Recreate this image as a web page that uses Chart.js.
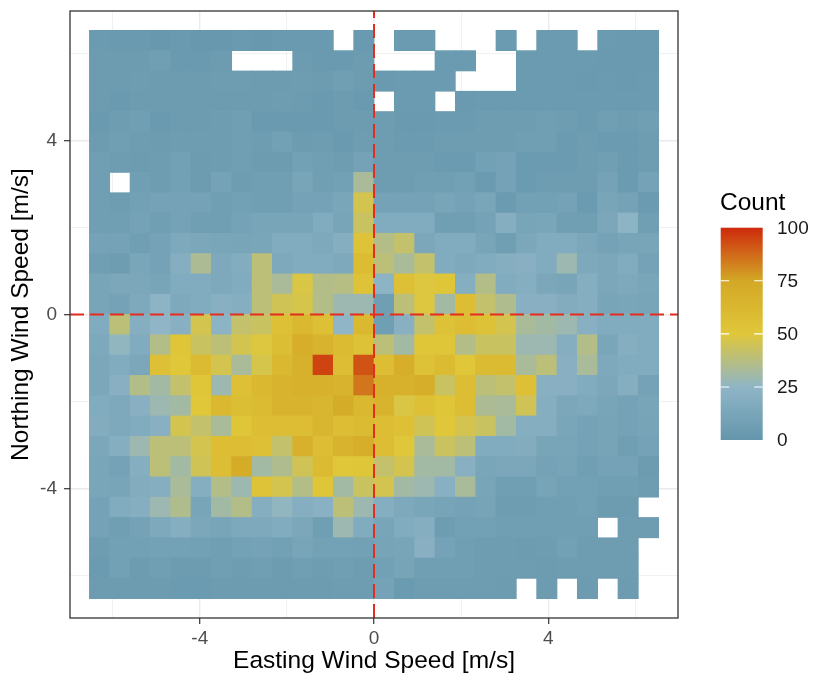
<!DOCTYPE html>
<html><head><meta charset="utf-8">
<script src="https://cdn.jsdelivr.net/npm/chart.js@4.4.1/dist/chart.umd.min.js"></script>
<style>html,body{margin:0;padding:0;background:#fff;overflow:hidden}</style>
</head><body>
<canvas id="c" width="813" height="681"></canvas>
<script>
// ---- data ----
const binWidth = 0.4668;          // m/s per bin
const firstEdge = -6.535;         // lower edge of the first bin (both axes)
// counts per bin; rows from north (top) to south (bottom), columns west -> east; null = empty bin
const countRows = [
 [4,3,3,2,3,2,2,3,2,3,3,3,null,3, null,4,4,null,null,null,4,null,4,4,null,4,3,3],
 [5,5,5,7,3,3,5,null,null,null,5,3,3,5, null,null,null,4,4,null,null,4,4,4,4,3,3,3],
 [5,5,6,5,5,5,6,6,5,5,6,5,7,5, 3,4,4,4,null,null,null,4,4,4,3,4,3,4],
 [5,3,5,5,5,5,5,5,5,6,5,3,5,3, null,4,4,null,3,4,4,4,4,4,4,4,4,4],
 [3,6,7,3,5,5,6,7,3,3,3,3,5,5, 6,3,3,4,4,6,6,6,7,6,4,7,6,7],
 [5,7,6,5,6,6,6,7,6,8,5,6,3,6, 6,4,4,6,6,6,6,7,7,4,6,4,4,6],
 [7,6,5,6,8,5,6,7,5,5,8,7,6,10, 6,6,6,4,4,8,10,4,4,4,6,7,4,6],
 [7,null,7,6,8,5,10,6,7,7,12,7,8,33, 6,6,7,7,8,4,10,4,6,6,6,10,4,10],
 [7,6,8,10,10,10,7,8,7,7,10,10,13,46, 10,10,10,12,10,13,4,8,8,10,4,12,10,4],
 [7,7,10,7,10,7,7,10,12,12,12,17,12,43, 17,17,17,7,7,10,19,12,13,7,7,14,24,7],
 [10,10,7,10,15,14,13,12,13,17,17,15,19,53, 36,41,14,17,17,12,7,14,17,17,14,10,12,12],
 [7,6,13,10,19,34,15,18,39,15,17,17,15,59, 39,33,41,17,15,17,19,21,17,29,15,14,17,10],
 [12,14,14,12,17,17,15,17,39,33,48,36,37,53, 24,56,49,51,19,36,17,19,14,12,19,14,15,13],
 [12,10,15,24,15,17,21,19,39,45,47,36,29,29, 7,39,49,31,58,41,35,21,21,18,19,12,13,12],
 [17,39,19,25,21,46,24,41,43,56,62,56,25,62, 7,21,41,55,58,55,46,33,31,29,21,17,17,17],
 [15,26,17,36,52,43,39,46,49,57,70,65,60,55, 39,31,52,52,36,43,43,29,29,19,36,13,19,17],
 [14,17,14,56,50,60,46,33,47,62,68,95,58,92, 58,70,55,60,50,60,60,33,39,21,33,15,17,17],
 [14,21,36,31,41,52,29,56,62,65,68,68,66,85, 68,68,70,43,58,39,41,56,21,21,17,14,19,10],
 [17,15,21,29,31,50,62,57,60,65,66,64,72,62, 65,48,56,52,58,34,33,45,19,14,15,12,10,12],
 [18,15,17,21,46,41,33,52,58,58,58,64,58,60, 58,56,45,50,46,43,31,19,19,13,10,11,10,11],
 [14,19,29,39,39,46,58,58,56,41,68,58,66,70, 58,50,33,43,39,17,17,18,12,12,10,11,7,10],
 [13,10,19,39,31,45,58,72,31,35,45,60,50,52, 41,46,31,31,21,13,14,14,10,11,7,10,10,5],
 [13,12,18,19,33,19,36,29,54,46,36,52,31,43, 46,31,29,21,33,12,7,7,11,8,8,7,7,6],
 [10,17,19,29,35,12,31,36,19,26,19,22,39,29, 19,15,13,11,10,11,6,6,7,7,8,5,5,null],
 [10,7,10,15,19,14,12,15,15,17,14,7,29,17, 12,17,19,6,8,8,7,7,7,7,7,null,6,6],
 [6,8,8,9,9,8,7,9,10,8,12,9,9,8, 11,12,21,10,7,6,6,5,6,8,6,6,6,null],
 [4,8,5,7,5,5,7,6,7,5,7,6,7,6, 8,11,7,7,7,6,6,6,5,6,6,6,6,null],
 [5,5,5,5,4,4,5,5,5,5,5,5,6,6, 10,4,6,6,6,6,5,null,5,null,5,null,5,null]
];
const axisLimits = [-6.98, 6.98];
const majorTicks = [-4, 0, 4];
const minorTicks = [-6, -2, 2, 6];
const legendTicks = [0, 25, 50, 75, 100];
const paletteStops = [0, 25, 50, 75, 100];
const paletteColors = [[100,150,172],[143,181,198],[224,199,58],[211,168,38],[206,42,12]];

// ---- helpers ----
const FONT = "'Liberation Sans', Arial, Helvetica, sans-serif";
function colourFor(v) {
  const t = Math.max(0, Math.min(100, v));
  for (let i = 1; i < paletteStops.length; i++) {
    if (t <= paletteStops[i]) {
      const f = (t - paletteStops[i-1]) / (paletteStops[i] - paletteStops[i-1]);
      const a = paletteColors[i-1], b = paletteColors[i];
      return `rgb(${Math.round(a[0]+(b[0]-a[0])*f)},${Math.round(a[1]+(b[1]-a[1])*f)},${Math.round(a[2]+(b[2]-a[2])*f)})`;
    }
  }
  const c = paletteColors[paletteColors.length-1];
  return `rgb(${c[0]},${c[1]},${c[2]})`;
}
const tiles = [];
countRows.forEach((row, r) => row.forEach((v, c) => {
  if (v !== null) tiles.push({x: firstEdge + (c + 0.5) * binWidth, y: -firstEdge - (r + 0.5) * binWidth, v});
}));
const gridValues = majorTicks.concat(minorTicks).sort((a,b)=>a-b);
const isMajor = v => majorTicks.includes(v);

const tileSide = ctx => {
  const sx = ctx.chart.scales.x;
  const side = Math.abs(sx.getPixelForValue(binWidth) - sx.getPixelForValue(0));
  return (side + 0.7) / Math.SQRT2;
};

const extras = {
  id: 'extras',
  afterDatasetsDraw(chart) {
    const {ctx, chartArea: a} = chart;
    ctx.save();
    ctx.strokeStyle = '#333333';
    ctx.lineWidth = 1.3;
    ctx.strokeRect(a.left, a.top, a.right - a.left, a.bottom - a.top);
    ctx.restore();
  },
  afterDraw(chart) {
    const ctx = chart.ctx;
    const L = 720.7, R = 762.7, T = 227.7, B = 440;
    ctx.save();
    const g = ctx.createLinearGradient(0, B, 0, T);
    paletteStops.forEach((s, i) => g.addColorStop(s / 100, colourFor(s)));
    ctx.fillStyle = g;
    ctx.fillRect(L, T, R - L, B - T);
    ctx.strokeStyle = '#ffffff';
    ctx.lineWidth = 1.1;
    ctx.fillStyle = '#1a1a1a';
    ctx.font = `19px ${FONT}`;
    ctx.textBaseline = 'middle';
    ctx.textAlign = 'left';
    legendTicks.forEach(v => {
      const y = B - (v / 100) * (B - T);
      if (v > 0 && v < 100) {
        ctx.beginPath();
        ctx.moveTo(L, y); ctx.lineTo(L + 8.5, y);
        ctx.moveTo(R - 8.5, y); ctx.lineTo(R, y);
        ctx.stroke();
      }
      ctx.fillText(String(v), 777, y + 1);
    });
    ctx.fillStyle = '#000';
    ctx.font = `24.5px ${FONT}`;
    ctx.textBaseline = 'alphabetic';
    ctx.fillText('Count', 720, 210);
    ctx.restore();
  }
};

const axisCommon = (title, isX) => ({
  type: 'linear',
  min: axisLimits[0], max: axisLimits[1],
  afterBuildTicks: s => { s.ticks = gridValues.map(v => ({value: v})); },
  afterFit: s => {
    if (isX) s.height = 63; else s.width = 70;
    s.paddingTop = 0; s.paddingBottom = 0; s.paddingLeft = 0; s.paddingRight = 0;
  },
  ticks: {
    autoSkip: false, maxRotation: 0,
    callback: v => isMajor(v) ? String(v) : '',
    color: '#4d4d4d',
    font: {family: FONT, size: 19},
    padding: isX ? 3 : 7
  },
  grid: {
    color: '#ebebeb',
    lineWidth: c => isMajor(c.tick.value) ? 1.4 : 0.7,
    drawTicks: true,
    tickLength: 6,
    tickWidth: 1.2,
    tickColor: c => isMajor(c.tick.value) ? '#333333' : 'rgba(0,0,0,0)'
  },
  border: {display: false},
  title: {
    display: true, text: title, color: '#000',
    font: {family: FONT, size: 24.5},
    padding: isX ? {top: 0, bottom: 5} : {top: 7, bottom: 0}
  }
});

new Chart(document.getElementById('c'), {
  type: 'scatter',
  data: {
    datasets: [
      { label: 'x0', data: [{x: 0, y: axisLimits[0]}, {x: 0, y: axisLimits[1]}], showLine: true,
        borderColor: 'rgb(228,45,30)', borderWidth: 2, borderDash: [14, 6], pointRadius: 0, order: 0 },
      { label: 'y0', data: [{x: axisLimits[0], y: 0}, {x: axisLimits[1], y: 0}], showLine: true,
        borderColor: 'rgb(228,45,30)', borderWidth: 2, borderDash: [14, 6], pointRadius: 0, order: 0 },
      { label: 'Count', data: tiles, pointStyle: 'rect', borderWidth: 0,
        pointRadius: tileSide, pointHoverRadius: tileSide,
        backgroundColor: c => colourFor(c.raw ? c.raw.v : 0), order: 1 }
    ]
  },
  options: {
    responsive: false, animation: false, devicePixelRatio: 1,
    layout: {padding: {left: 0, top: 11, right: 135, bottom: 0}},
    plugins: {legend: {display: false}, tooltip: {enabled: false}},
    events: [],
    scales: {
      x: axisCommon('Easting Wind Speed [m/s]', true),
      y: axisCommon('Northing Wind Speed [m/s]', false)
    }
  },
  plugins: [extras]
});
</script>
</body></html>
